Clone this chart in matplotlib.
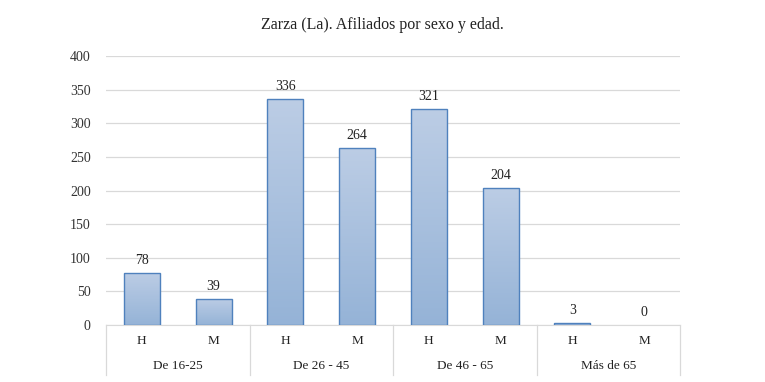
import numpy as np
import matplotlib
matplotlib.use("Agg")
import matplotlib.pyplot as plt
from matplotlib.colors import LinearSegmentedColormap

plt.rcParams['font.family'] = ['Liberation Serif', 'DejaVu Serif']

# datos
grupos = ['De 16-25', 'De 26 - 45', 'De 46 - 65', 'Más de 65']
sexos = ['H', 'M']
valores = [78, 39, 336, 264, 321, 204, 3, 0]

fig = plt.figure(figsize=(7.65, 3.82), dpi=100)
ax = fig.add_axes([0.1386, 0.149, 0.7503, 0.704])

n = len(valores)
x = np.arange(n)
ancho = 0.5
bordes = ['#4f81bd' if v > 0 else 'none' for v in valores]
barras = ax.bar(x, valores, width=ancho, color='none', edgecolor=bordes, linewidth=1.0, zorder=3)

# degradado en cada barra
cmap = LinearSegmentedColormap.from_list('grad', ['#95b3d7', '#bccde5'])
grad = np.linspace(0, 1, 256).reshape(-1, 1)
for b in barras:
    if b.get_height() <= 0:
        continue
    x0, y0 = b.get_x(), b.get_y()
    w, h = b.get_width(), b.get_height()
    im = ax.imshow(grad, extent=[x0, x0 + w, y0, y0 + h], origin='lower', cmap=cmap,
                   aspect='auto', zorder=2)
    im.set_clip_path(b)

for xi, v in zip(x, valores):
    ax.text(xi, v + 9, str(v), ha='center', va='bottom', fontsize=10, color='#222222')

ax.set_xlim(-0.5, n - 0.5)
ax.set_ylim(0, 400)
ax.set_yticks(range(0, 401, 50))
ax.tick_params(axis='y', length=0, labelsize=10, colors='#333333', pad=11)
ax.set_xticks([])
ax.grid(axis='y', color='#d9d9d9', linewidth=0.9, zorder=0)
ax.set_axisbelow(True)
for s in ['top', 'right', 'left']:
    ax.spines[s].set_visible(False)
ax.spines['bottom'].set_color('#d9d9d9')

# etiquetas en dos niveles
trans = ax.get_xaxis_transform()
for i in range(n):
    ax.text(x[i], -0.06, sexos[i % 2], transform=trans, ha='center', va='center',
            fontsize=9.5, color='#222222')
for g, nombre in enumerate(grupos):
    ax.text(2 * g + 0.5, -0.153, nombre, transform=trans, ha='center', va='center',
            fontsize=9.5, color='#222222')
for g in range(len(grupos) + 1):
    ax.plot([2 * g - 0.5, 2 * g - 0.5], [0, -0.186], transform=trans, color='#d9d9d9',
            linewidth=0.9, clip_on=False)

fig.text(0.5, 0.935, 'Zarza (La). Afiliados por sexo y edad.', ha='center', va='center',
         fontsize=11.5, color='#222222')

fig.savefig('out.png', dpi=100)
